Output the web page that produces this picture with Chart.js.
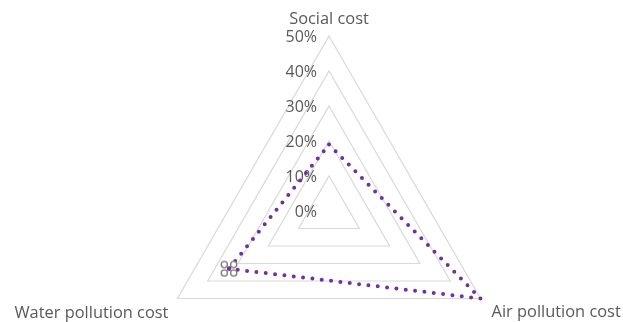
<!DOCTYPE html>
<html><head><meta charset="utf-8">
<script src="https://cdn.jsdelivr.net/npm/chart.js@4/dist/chart.umd.min.js"></script>
<style>html,body{margin:0;padding:0;overflow:hidden;background:#fff}#wrap{width:623px;height:400px;position:relative}</style>
</head><body><div id="wrap"><canvas id="c" width="623" height="400"></canvas></div>
<script>
const categories = ['Social cost', 'Air pollution cost', 'Water pollution cost'];
const costShare = [0.19, 0.50, 0.33];
const tickValues = [0, 0.1, 0.2, 0.3, 0.4, 0.5];
const markerIndex = 2;

// marker: four small grey rings (as in the reference)
const mk = document.createElement('canvas');
mk.width = 22; mk.height = 22;
(function(){
  const g = mk.getContext('2d');
  g.strokeStyle = '#7a7a7a'; g.fillStyle = '#ffffff'; g.lineWidth = 1.3;
  [[-4.7,-4.2],[4.7,-4.2],[-4.7,4.2],[4.7,4.2]].forEach(([dx,dy])=>{
    g.beginPath(); g.arc(11+dx,11+dy,3.1,0,Math.PI*2); g.fill(); g.stroke();
  });
  g.fillStyle = '#7030a0';
  g.beginPath(); g.arc(11,11,2.2,0,Math.PI*2); g.fill();
})();

const textPlugin = {
  id: 'textPlugin',
  beforeDatasetsDraw(chart) {
    const s = chart.scales.r, ctx = chart.ctx;
    ctx.save();
    ctx.fillStyle = '#595959';
    ctx.font = '16px "Open Sans"';
    ctx.textAlign = 'right'; ctx.textBaseline = 'middle';
    tickValues.forEach(v => {
      const d = s.getDistanceFromCenterForValue(v);
      ctx.fillText(Math.round(v * 100) + '%', s.xCenter - 12, s.yCenter - d + 1);
    });
    ctx.restore();
  },
  afterDraw(chart) {
    const s = chart.scales.r, ctx = chart.ctx;
    ctx.save();
    ctx.fillStyle = '#595959';
    ctx.font = '16.4px "Open Sans"';
    ctx.textBaseline = 'middle';
    categories.forEach((c, i) => {
      const p = s.getPointPosition(i, s.drawingArea);
      if (i === 0) { ctx.textAlign = 'center'; ctx.fillText(c, p.x, p.y - 17); }
      else if (i === 1) { ctx.textAlign = 'left'; ctx.fillText(c, p.x + 11, p.y + 14); }
      else { ctx.textAlign = 'right'; ctx.fillText(c, p.x - 9, p.y + 15); }
    });
    ctx.restore();
  }
};

new Chart(document.getElementById('c'), {
  type: 'radar',
  data: {
    labels: categories,
    datasets: [{
      data: costShare,
      borderColor: '#7030a0',
      backgroundColor: 'rgba(0,0,0,0)',
      fill: false,
      borderWidth: 4,
      borderDash: [0, 9.4],
      borderCapStyle: 'round',
      borderJoinStyle: 'round',
      pointRadius: costShare.map((v, i) => i === markerIndex ? 6 : 0),
      pointStyle: costShare.map((v, i) => i === markerIndex ? mk : 'circle'),
      pointHoverRadius: 0
    }]
  },
  options: {
    responsive: false,
    animation: false,
    devicePixelRatio: 1,
    layout: { padding: { top: 36, bottom: 14, left: 154, right: 119 } },
    plugins: { legend: { display: false }, tooltip: { enabled: false } },
    elements: { line: { tension: 0 } },
    scales: {
      r: {
        min: 0, max: 0.5,
        ticks: { stepSize: 0.1, display: false },
        grid: { color: '#d9d9d9', lineWidth: 1.2 },
        angleLines: { display: false },
        pointLabels: { display: false }
      }
    }
  },
  plugins: [textPlugin]
});
</script>
</body></html>
